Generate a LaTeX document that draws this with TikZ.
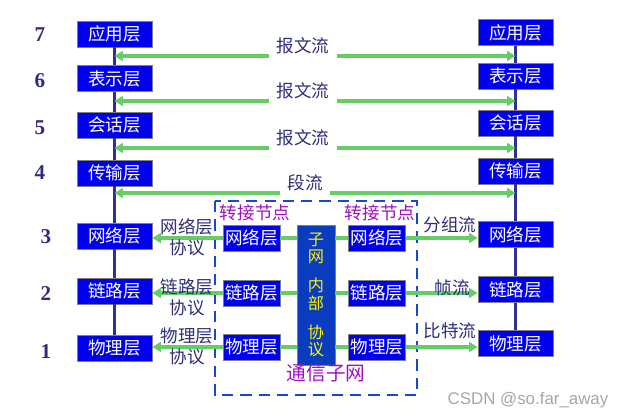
\documentclass[tikz,border=0pt]{standalone}
\usepackage{fontspec}
\setmainfont{Liberation Serif}
\newfontfamily\cjk{Noto Sans CJK SC}
\newfontfamily\wmfont{Liberation Sans}
\usetikzlibrary{arrows.meta}
\definecolor{layerblue}{HTML}{0000EE}
\definecolor{flowgreen}{HTML}{66CC66}
\definecolor{navy}{HTML}{2E2E7A}
\definecolor{spinenavy}{HTML}{303090}
\definecolor{relaypink}{HTML}{A010C0}
\definecolor{subblue}{HTML}{0A3CC0}
\definecolor{frameblue}{HTML}{1848D0}
\begin{document}
\begin{tikzpicture}[x=0.025cm, y=-0.025cm, line width=0.55pt,
  layer/.style={draw=gray, fill=layerblue, text=white, minimum width=1.875cm,
    minimum height=0.65cm, inner sep=0pt, font=\cjk\fontsize{12.5}{14}\selectfont},
  inner layer/.style={layer, minimum width=1.425cm},
  num/.style={text=navy, font=\bfseries\fontsize{15}{17}\selectfont},
  lbl/.style={text=navy, inner sep=1pt, align=center, font=\cjk\fontsize{12.5}{15}\selectfont},
  relay/.style={text=relaypink, inner sep=1pt, font=\cjk\fontsize{12.5}{14}\selectfont},
  flow/.style={draw=flowgreen, line width=2.2pt},
  spine/.style={draw=spinenavy, line width=1.6pt},
  >={Triangle[length=6pt,width=7pt]}]
  \useasboundingbox (0,0) rectangle (618,418);

  % layer numbers
  \node[num] (n7) at (40,35) {7};
  \node[num] (n6) at (40,81) {6};
  \node[num] (n5) at (40,128) {5};
  \node[num] (n4) at (40,173) {4};
  \node[num] (n3) at (46,237) {3};
  \node[num] (n2) at (46,294) {2};
  \node[num] (n1) at (46,352) {1};

  % end systems
  \node[layer] (L7) at (114.5,34) {应用层};
  \node[layer] (L6) at (114.5,78.5) {表示层};
  \node[layer] (L5) at (114.5,125) {会话层};
  \node[layer] (L4) at (114.5,173) {传输层};
  \node[layer] (L3) at (114.5,236) {网络层};
  \node[layer] (L2) at (114.5,291) {链路层};
  \node[layer] (L1) at (114.5,348) {物理层};
  \node[layer] (R7) at (515.5,32.5) {应用层};
  \node[layer] (R6) at (515.5,76) {表示层};
  \node[layer] (R5) at (515.5,123) {会话层};
  \node[layer] (R4) at (515.5,171) {传输层};
  \node[layer] (R3) at (515.5,234.5) {网络层};
  \node[layer] (R2) at (515.5,289.5) {链路层};
  \node[layer] (R1) at (515.5,343.5) {物理层};
  \foreach \a/\b in {7/6,6/5,5/4,4/3,3/2,2/1} {
    \draw[spine] (L\a.south) -- (L\b.north);
    \draw[spine] (R\a.south) -- (R\b.north);
  }

  % peer flows
  \node[lbl, anchor=south] (f7) at (303,56) {报文流};
  \node[lbl, anchor=south] (f6) at (303,101) {报文流};
  \node[lbl, anchor=south] (f5) at (303,148) {报文流};
  \node[lbl, anchor=south] (f4) at (305,193) {段流};
  \foreach \i in {7,6,5,4} {
    \draw[flow,->] ([xshift=-4pt]f\i.south west) -- (L\i |- f\i.south);
    \draw[flow,->] ([xshift=4pt]f\i.south east) -- (R\i |- f\i.south);
  }

  % communication subnet
  \draw[frameblue, line width=2pt, dash pattern=on 8pt off 5pt] (215,201) rectangle (417,395);
  \node[relay] (t1) at (255,213) {转接节点};
  \node[relay] (t2) at (380,213) {转接节点};
  \node[inner layer] (A3) at (251.5,238) {网络层};
  \node[inner layer] (A2) at (251.5,293) {链路层};
  \node[inner layer] (A1) at (251.5,347) {物理层};
  \node[inner layer] (B3) at (377,238) {网络层};
  \node[inner layer] (B2) at (377,293) {链路层};
  \node[inner layer] (B1) at (377,347) {物理层};
  \node[draw=gray, fill=subblue, text=yellow, minimum width=0.95cm, minimum height=3.5cm,
    inner sep=0pt, align=center, font=\cjk\fontsize{11.5}{12.5}\selectfont]
    (sub) at (316,295) {子\\网\\[8pt]内\\部\\[8pt]协\\议};
  \node[relay, font=\cjk\fontsize{14}{16}\selectfont] (net) at (326,373) {通信子网};
  \foreach \i in {3,2,1} {
    \draw[flow] (sub.west |- A\i) -- (A\i.east);
    \draw[flow,->] (A\i.west) -- (A\i.west -| L\i.east);
    \draw[flow] (sub.east |- B\i) -- (B\i.west);
    \draw[flow,->] (B\i.east) -- (B\i.east -| R\i.west);
  }

  % protocol labels
  \node[lbl] (p3) at (187,237) {网络层\\协议};
  \node[lbl] (p2) at (187,297) {链路层\\协议};
  \node[lbl] (p1) at (187,346) {物理层\\协议};
  \node[lbl] (g3) at (450,225) {分组流};
  \node[lbl] (g2) at (452,288) {帧流};
  \node[lbl] (g1) at (450,331) {比特流};

  \node[text=gray!70, font=\wmfont\fontsize{12}{14}\selectfont] (wm) at (528,400) {CSDN @so.far\_away};
\end{tikzpicture}
\end{document}
